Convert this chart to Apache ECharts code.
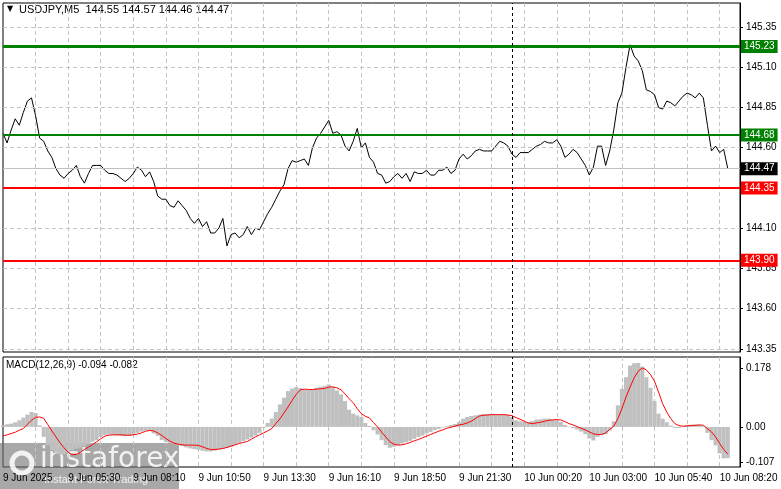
<!DOCTYPE html>
<html><head><meta charset="utf-8">
<script src="https://cdn.jsdelivr.net/npm/echarts@6/dist/echarts.min.js"></script>
<style>html,body{margin:0;padding:0;background:#fff}#c{width:781px;height:489px}</style>
</head><body><div id="c"></div>
<script>
const price = [144.69,144.63,144.71,144.78,144.74,144.82,144.89,144.91,144.80,144.66,144.64,144.58,144.54,144.47,144.43,144.41,144.44,144.46,144.49,144.42,
144.38,144.44,144.49,144.49,144.49,144.46,144.44,144.44,144.43,144.41,144.39,144.41,144.44,144.48,144.46,144.42,144.45,144.39,144.30,144.28,
144.28,144.24,144.23,144.27,144.24,144.21,144.16,144.13,144.16,144.11,144.14,144.07,144.07,144.10,144.16,143.99,144.06,144.07,144.04,144.06,
144.11,144.06,144.10,144.09,144.14,144.19,144.23,144.28,144.33,144.37,144.47,144.52,144.51,144.52,144.53,144.49,144.60,144.66,144.69,144.73,
144.77,144.69,144.70,144.68,144.61,144.58,144.64,144.72,144.60,144.63,144.54,144.51,144.44,144.43,144.38,144.39,144.42,144.44,144.41,144.44,
144.39,144.45,144.44,144.44,144.46,144.43,144.43,144.46,144.46,144.48,144.44,144.46,144.53,144.56,144.53,144.55,144.58,144.59,144.58,144.58,
144.58,144.61,144.64,144.63,144.61,144.56,144.54,144.57,144.57,144.57,144.59,144.61,144.62,144.64,144.63,144.63,144.65,144.61,144.54,144.56,
144.59,144.57,144.53,144.49,144.43,144.48,144.61,144.61,144.49,144.58,144.71,144.88,144.94,145.10,145.24,145.17,145.14,145.08,144.96,144.95,
144.93,144.85,144.84,144.89,144.88,144.86,144.89,144.92,144.94,144.93,144.91,144.94,144.91,144.74,144.58,144.61,144.57,144.59,144.47];
const macdHist = [.005,.008,.01,.014,.02,.028,.037,.045,.042,.005,-.03,-.055,-.07,-.078,-.084,-.082,-.078,-.07,-.066,-.063,
-.058,-.052,-.045,-.04,-.03,-.025,-.023,-.024,-.025,-.027,-.028,-.027,-.024,-.018,-.014,-.011,-.012,-.02,-.027,-.04,
-.045,-.048,-.052,-.055,-.058,-.062,-.065,-.067,-.069,-.072,-.074,-.074,-.072,-.069,-.066,-.063,-.06,-.054,-.048,-.043,
-.038,-.032,-.026,-.018,-.003,.012,.025,.045,.068,.088,.108,.116,.12,.117,.113,.112,.114,.118,.121,.124,
.128,.12,.11,.098,.078,.052,.04,.035,.03,.012,.003,-.01,-.023,-.04,-.055,-.063,-.06,-.055,-.05,-.046,
-.042,-.036,-.03,-.026,-.02,-.015,-.01,-.006,-.002,.002,.006,.009,.015,.025,.03,.033,.035,.037,.039,.039,
.038,.037,.037,.037,.036,.03,.02,.017,.016,.015,.018,.022,.023,.025,.025,.022,.02,.015,.006,.001,
-.004,-.008,-.014,-.022,-.035,-.041,-.03,-.025,-.022,-.01,.017,.065,.115,.15,.185,.192,.193,.182,.15,.118,
.078,.04,.025,.014,.004,-.003,-.003,.002,.006,.007,.007,.006,.002,-.018,-.04,-.056,-.08,-.095,-.094];
const macdSignal = [-.027,-.024,-.02,-.016,-.01,-.005,.008,.02,.029,.03,.026,.007,-.012,-.03,-.048,-.063,-.077,-.084,-.083,-.077,
-.068,-.061,-.053,-.045,-.036,-.028,-.025,-.024,-.024,-.024,-.025,-.025,-.024,-.022,-.018,-.013,-.011,-.012,-.018,-.026,
-.035,-.043,-.049,-.052,-.054,-.055,-.055,-.055,-.056,-.06,-.065,-.068,-.068,-.067,-.065,-.062,-.058,-.054,-.05,-.047,
-.044,-.037,-.03,-.024,-.018,-.012,-.005,.01,.024,.042,.06,.08,.098,.112,.114,.113,.113,.114,.115,.116,
.12,.121,.118,.112,.1,.085,.073,.055,.04,.032,.027,.013,0,-.016,-.03,-.045,-.052,-.055,-.054,-.051,
-.047,-.042,-.038,-.033,-.028,-.023,-.018,-.013,-.009,-.004,-.001,.002,.006,.008,.012,.017,.025,.033,.035,.036,
.037,.037,.037,.037,.036,.034,.028,.023,.017,.012,.01,.012,.014,.017,.02,.021,.022,.021,.016,.01,
.006,.001,-.004,-.009,-.015,-.021,-.023,-.023,-.018,-.008,.002,.025,.055,.09,.12,.148,.168,.178,.172,.158,
.138,.105,.07,.045,.025,.01,.004,.002,.003,.004,.005,.006,.005,-.005,-.015,-.03,-.05,-.068,-.082];
const timeLabels = ['9 Jun 2025','9 Jun 05:30','9 Jun 08:10','9 Jun 10:50','9 Jun 13:30','9 Jun 16:10','9 Jun 18:50','9 Jun 21:30','10 Jun 00:20','10 Jun 03:00','10 Jun 05:40','10 Jun 08:20'];
const priceTicks = [145.35,145.10,144.85,144.60,144.35,144.10,143.85,143.60,143.35];
const macdTicks = [0.178,0,-0.107];
const levels = [{v:145.23,c:'#008000',w:3},{v:144.68,c:'#008000',w:2},{v:144.35,c:'#ff0000',w:2},{v:143.90,c:'#ff0000',w:2}];
const lastPrice = 144.47;
const daySepIndex = 125;
const nCat = 182;
const cats = Array.from({length:nCat},(_,i)=>String(i));

const chart = echarts.init(document.getElementById('c'));
const FONT = 'Liberation Sans';
const vgrid = {show:true,interval:(i)=>i%8===0&&i>0,lineStyle:{color:'#c4c4c4',type:[4,3],width:1}};
const lvlLines = levels.map(l=>({yAxis:l.v,lineStyle:{color:l.c,width:l.w,type:'solid'},
  label:{show:true,position:'end',formatter:l.v.toFixed(2),color:'#fff',backgroundColor:l.c,padding:[2,3,1,3],fontSize:10,fontFamily:FONT,distance:1}}));
lvlLines.push({yAxis:lastPrice,lineStyle:{color:'#c0c0c0',width:1,type:'solid'},
  label:{show:true,position:'end',formatter:lastPrice.toFixed(2),color:'#fff',backgroundColor:'#000',padding:[2,3,1,3],fontSize:10,fontFamily:FONT,distance:1}});
chart.setOption({
  animation:false,
  grid:[{left:3,right:41,top:3,height:349,show:true,borderColor:'#000',borderWidth:1},
        {left:3,right:41,top:357,height:110,show:true,borderColor:'#000',borderWidth:1}],
  xAxis:[{type:'category',gridIndex:0,data:cats,boundaryGap:false,axisLine:{show:false},axisTick:{show:false},axisLabel:{show:false},splitLine:vgrid},
         {type:'category',gridIndex:1,data:cats,boundaryGap:false,axisLine:{show:false},axisTick:{show:false},splitLine:vgrid,
          axisLabel:{show:true,interval:0,align:'left',margin:6,fontSize:10,fontFamily:FONT,color:'#000',
            formatter:(v)=>{const i=+v;return i%16===0&&timeLabels[i/16]?timeLabels[i/16]:'';}}}],
  yAxis:[{type:'value',gridIndex:0,position:'right',min:143.33,max:145.50,splitLine:{show:false},
          axisLine:{show:true,lineStyle:{color:'#000'}},
          axisTick:{show:true,length:3,customValues:priceTicks,lineStyle:{color:'#000'}},
          axisLabel:{customValues:priceTicks,formatter:v=>v.toFixed(2),fontSize:10,fontFamily:FONT,color:'#000',margin:6}},
         {type:'value',gridIndex:1,position:'right',min:-0.121,max:0.211,splitLine:{show:false},
          axisLine:{show:true,lineStyle:{color:'#000'}},
          axisTick:{show:true,length:3,customValues:macdTicks,lineStyle:{color:'#000'}},
          axisLabel:{customValues:macdTicks,formatter:v=>v===0?'0.00':v.toFixed(3),fontSize:10,fontFamily:FONT,color:'#000',margin:6}}],
  series:[
    {type:'line',xAxisIndex:0,yAxisIndex:0,data:priceTicks.map(()=>null),silent:true,
     markLine:{symbol:'none',silent:true,animation:false,label:{show:false},lineStyle:{color:'#c4c4c4',type:[4,3],width:1},data:priceTicks.map(t=>({yAxis:t}))}},
    {type:'line',xAxisIndex:0,yAxisIndex:0,data:price,showSymbol:false,lineStyle:{color:'#000',width:1},
     markLine:{symbol:'none',silent:true,animation:false,data:lvlLines.concat([{xAxis:String(daySepIndex),lineStyle:{color:'#000',type:[3,3],width:1},label:{show:false}}])}},
    {type:'bar',xAxisIndex:1,yAxisIndex:1,data:macdHist,barWidth:'100%',itemStyle:{color:'#c0c0c0'},
     markLine:{symbol:'none',silent:true,animation:false,data:[{xAxis:String(daySepIndex),lineStyle:{color:'#000',type:[3,3],width:1},label:{show:false}}]}},
    {type:'line',xAxisIndex:1,yAxisIndex:1,data:macdSignal,showSymbol:false,lineStyle:{color:'#ff0000',width:1}}
  ],
  graphic:[
    {type:'text',left:7,top:5,style:{text:'▼',fontSize:8,fill:'#000',fontFamily:'DejaVu Sans'}},
    {type:'text',left:19,top:4,style:{text:'USDJPY,M5  144.55 144.57 144.46 144.47',fontSize:11,fill:'#000',fontFamily:FONT}},
    {type:'text',left:6,top:360,style:{text:'MACD(12,26,9) -0.094 -0.082',fontSize:10,fill:'#000',fontFamily:FONT}},
    {type:'rect',shape:{x:0,y:443,width:179,height:46},style:{fill:'rgba(110,110,110,0.6)'}},
    {type:'circle',shape:{cx:22,cy:463,r:10},style:{fill:'none',stroke:'rgba(255,255,255,0.85)',lineWidth:5}},
    {type:'text',left:40,top:446,style:{text:'instaforex',fontSize:28,fill:'rgba(255,255,255,0.85)',fontFamily:'DejaVu Sans'}},
    {type:'text',left:44,top:474,style:{text:'Instant Forex Trading',fontSize:11,fill:'rgba(255,255,255,0.85)',fontFamily:FONT}}
  ]
});
</script></body></html>
